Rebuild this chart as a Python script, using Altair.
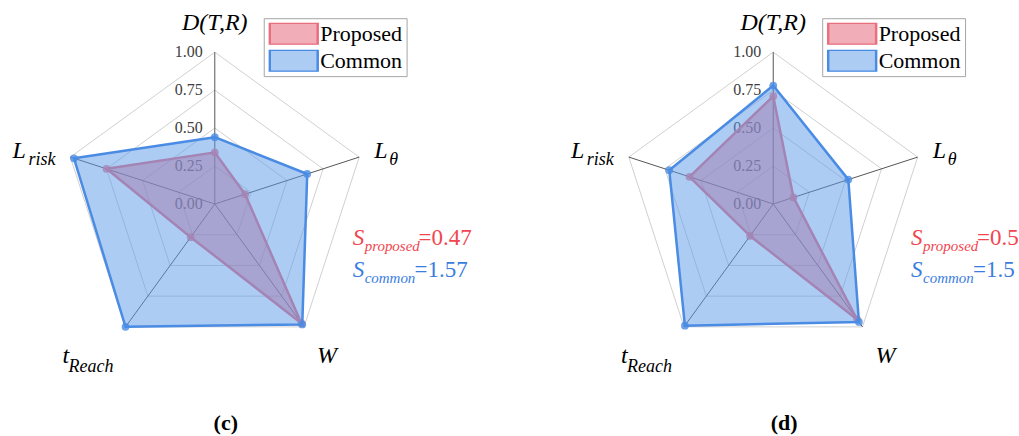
import altair as alt
import pandas as pd

# Radar axes: main symbol and its subscript
AXIS_MAIN = ["D(T,R)", "L", "W", "t", "L"]
AXIS_SUB = ["", "θ", "", "Reach", "risk"]
RING_LEVELS = [0.25, 0.50, 0.75, 1.00]
TICK_LEVELS = [0.00, 0.25, 0.50, 0.75, 1.00]
SERIES = ["Proposed", "Common"]

# Normalised scores on each axis
PROPOSED_C = [0.34, 0.21, 0.97, 0.27, 0.75]
COMMON_C = [0.44, 0.64, 0.98, 1.00, 0.975]
PROPOSED_D = [0.71, 0.14, 0.94, 0.26, 0.58]
COMMON_D = [0.78, 0.52, 0.96, 0.99, 0.72]

# Enclosed-area scores printed beside each radar
SCORES_C = ["0.47", "1.57"]
SCORES_D = ["0.5", "1.5"]
PANEL_TAGS = ["(c)", "(d)"]

FILL = ["rgba(230,100,118,0.52)", "rgba(92,153,234,0.5)"]
STROKE = ["#ea6f7e", "#4a8be3"]
TEXT_COL = ["#f0464f", "#3a7ddf"]

SERIF = "Liberation Serif"
K = 152.0      # pixels per unit radius
H = 436
CY = 204
N = len(AXIS_MAIN)
ANGLE = f"(PI/2 - datum.idx*2*PI/{N})"

# label offsets (dx, dy, align) from each axis tip
MAIN_OFF = [(0, -22, "center"), (15, 1, "left"), (23, 36, "center"),
            (-63, 36, "left"), (-58, 1, "left")]
SUB_OFF = [None, (30, 8), None, (-57, 45), (-42, 8)]


def radar(prop, comm, scores, tag, width, cx):
    xs = alt.Scale(domain=[-cx / K, (width - cx) / K], nice=False, zero=False)
    ys = alt.Scale(domain=[-(H - CY) / K, CY / K], nice=False, zero=False)
    ex = alt.X("px:Q", scale=xs, axis=None)
    ey = alt.Y("py:Q", scale=ys, axis=None)

    axes_df = pd.DataFrame({"idx": list(range(N)), "main": AXIS_MAIN, "sub": AXIS_SUB})
    grid_df = pd.DataFrame([{"level": lv, "idx": i} for lv in RING_LEVELS for i in range(N)])
    tick_df = pd.DataFrame({"level": TICK_LEVELS})
    vals_df = pd.DataFrame({
        "series": [s for s in SERIES for _ in range(N)],
        "idx": list(range(N)) * 2,
        "value": list(prop) + list(comm),
    })
    score_df = pd.DataFrame({"series": SERIES, "score": scores})
    tag_df = pd.DataFrame({"tag": [tag]})

    rings = alt.Chart(grid_df).transform_calculate(
        px=f"datum.level*cos({ANGLE})", py=f"datum.level*sin({ANGLE})"
    ).mark_line(interpolate="linear-closed", stroke="#d0d0d0", strokeWidth=1).encode(
        x=ex, y=ey, detail="level:N", order="idx:Q")

    spokes = alt.Chart(axes_df).transform_calculate(
        px="0", py="0", qx=f"cos({ANGLE})", qy=f"sin({ANGLE})"
    ).mark_rule(color="#555555", strokeWidth=1).encode(
        x=ex, y=ey, x2="qx:Q", y2="qy:Q")

    ticks = alt.Chart(tick_df).transform_calculate(px="0", py="datum.level").mark_text(
        align="right", baseline="middle", dx=-12, font=SERIF, fontSize=16, color="#404040"
    ).encode(x=ex, y=ey, text=alt.Text("level:Q", format=".2f"))

    leg = alt.Legend(
        title=None, orient="none", legendX=cx + 49, legendY=18, direction="vertical",
        symbolType="M-1,-0.458H1V0.458H-1Z", symbolSize=2304, symbolStrokeWidth=2.5,
        labelFont=SERIF, labelFontSize=22, labelColor="black", labelOffset=1,
        padding=4.5, rowPadding=5, strokeColor="#a6a6a6", fillColor="white",
        clipHeight=22,
    )
    fs = alt.Scale(domain=SERIES, range=FILL)
    ss = alt.Scale(domain=SERIES, range=STROKE)

    layers = [rings, spokes, ticks]
    base = alt.Chart(vals_df).transform_calculate(
        px=f"datum.value*cos({ANGLE})", py=f"datum.value*sin({ANGLE})")
    for i, s in enumerate(SERIES):
        sub = base.transform_filter(f"datum.series == '{s}'")
        layers.append(sub.mark_line(interpolate="linear-closed", strokeWidth=2.5,
                                    strokeJoin="round").encode(
            x=ex, y=ey, order="idx:Q",
            fill=alt.Fill("series:N", scale=fs, legend=leg),
            stroke=alt.Stroke("series:N", scale=ss, legend=leg)))
        layers.append(sub.mark_circle(size=60, opacity=0.8, color=STROKE[i]).encode(x=ex, y=ey))

    lab = alt.Chart(axes_df).transform_calculate(px=f"cos({ANGLE})", py=f"sin({ANGLE})")
    for i in range(N):
        dx, dy, al = MAIN_OFF[i]
        li = lab.transform_filter(f"datum.idx == {i}")
        layers.append(li.mark_text(align=al, baseline="alphabetic", dx=dx, dy=dy, font=SERIF,
                                   fontSize=24, fontStyle="italic", color="black").encode(
            x=ex, y=ey, text="main:N"))
        if SUB_OFF[i]:
            sdx, sdy = SUB_OFF[i]
            layers.append(li.mark_text(align="left", baseline="alphabetic", dx=sdx, dy=sdy,
                                       font=SERIF, fontSize=18, fontStyle="italic",
                                       color="black").encode(x=ex, y=ey, text="sub:N"))

    sc = alt.Chart(score_df).transform_calculate(
        low="lower(datum.series)", eq="'=' + datum.score")
    for i, s in enumerate(SERIES):
        row = sc.transform_filter(f"datum.series == '{s}'")
        yb = CY + 41 + 32 * i
        vx = cx + (204 if i == 0 else 200)
        layers.append(row.mark_text(text="S", align="left", baseline="alphabetic", font=SERIF,
                                    fontSize=23, fontStyle="italic", color=TEXT_COL[i]).encode(
            x=alt.value(cx + 138), y=alt.value(yb)))
        layers.append(row.mark_text(align="left", baseline="alphabetic", font=SERIF,
                                    fontSize=15, fontStyle="italic", color=TEXT_COL[i]).encode(
            x=alt.value(cx + 150), y=alt.value(yb + 6), text="low:N"))
        layers.append(row.mark_text(align="left", baseline="alphabetic", font=SERIF,
                                    fontSize=23, color=TEXT_COL[i]).encode(
            x=alt.value(vx), y=alt.value(yb), text="eq:N"))

    layers.append(alt.Chart(tag_df).mark_text(
        align="center", baseline="alphabetic", font=SERIF, fontSize=22, fontWeight="bold",
        color="black").encode(x=alt.value(cx + 11), y=alt.value(430), text="tag:N"))

    return alt.layer(*layers).properties(width=width, height=H)


left = radar(PROPOSED_C, COMMON_C, SCORES_C, PANEL_TAGS[0], 509, 215)
right = radar(PROPOSED_D, COMMON_D, SCORES_D, PANEL_TAGS[1], 510, 265)

chart = alt.hconcat(left, right, spacing=0, bounds="flush").resolve_scale(
    x="independent", y="independent", fill="independent", stroke="independent"
).resolve_legend(fill="independent", stroke="independent").properties(
    padding=0
).configure(background="white", font=SERIF).configure_text(font=SERIF).configure_view(
    stroke=None)

chart.save("out.html", embed_options={"renderer": "svg", "actions": False})
